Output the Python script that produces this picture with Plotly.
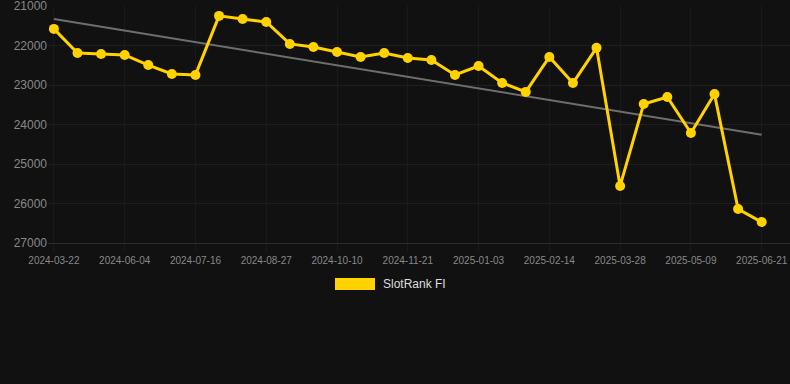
import numpy as np
import plotly.graph_objects as go

dates = [
    "2024-03-22", "2024-04-13", "2024-05-12", "2024-06-04", "2024-06-18", "2024-07-02",
    "2024-07-16", "2024-07-30", "2024-08-13", "2024-08-27", "2024-09-10", "2024-09-25",
    "2024-10-10", "2024-10-24", "2024-11-07", "2024-11-21", "2024-12-05", "2024-12-19",
    "2025-01-03", "2025-01-17", "2025-01-31", "2025-02-14", "2025-02-28", "2025-03-14",
    "2025-03-28", "2025-04-11", "2025-04-25", "2025-05-09", "2025-05-23", "2025-06-07",
    "2025-06-21",
]
ranks = [
    21580, 22190, 22215, 22240, 22495, 22720, 22745, 21250, 21330, 21405,
    21960, 22040, 22165, 22290, 22190, 22315, 22365, 22745, 22520, 22950,
    23175, 22290, 22950, 22060, 25555, 23480, 23305, 24215, 23230, 26140,
    26470,
]
series_name = "SlotRank FI"
tick_labels = dates[::3]
y_ticks = [21000, 22000, 23000, 24000, 25000, 26000, 27000]

idx = np.arange(len(ranks))
coef = np.polyfit(idx, ranks, 1)
trend = np.polyval(coef, idx)

fig = go.Figure()
fig.add_trace(go.Scatter(
    x=dates, y=trend, mode="lines",
    line=dict(color="#6e6e6e", width=2), showlegend=False, hoverinfo="skip",
))
fig.add_trace(go.Scatter(
    x=dates, y=ranks, mode="lines+markers", name=series_name,
    line=dict(color="#FFD200", width=3),
    marker=dict(color="#FFD200", size=10),
    showlegend=False,
))

fig.update_layout(
    width=790, height=384,
    margin=dict(l=48, r=0, t=6, b=141),
    paper_bgcolor="#111111", plot_bgcolor="#111111",
    font=dict(family="Liberation Sans, Arial, sans-serif", color="#888888"),
    xaxis=dict(
        type="category", range=[-0.25, 31.2],
        tickvals=tick_labels, ticktext=tick_labels,
        showgrid=True, gridcolor="#1a1a1a", gridwidth=1,
        tickfont=dict(size=10, color="#888888"),
        showline=True, linecolor="#2c2c2c", linewidth=1,
        ticks="outside", ticklen=8, tickcolor="#1a1a1a", zeroline=False,
        ticklabeloverflow="allow",
    ),
    yaxis=dict(
        range=[27000, 21000], tickvals=y_ticks,
        ticktext=[str(v) for v in y_ticks],
        showgrid=True, gridcolor="#1e1e1e", gridwidth=1,
        tickfont=dict(size=12, color="#888888"),
        zeroline=False, ticks="", ticklabeloverflow="allow",
    ),
    showlegend=False,
    shapes=[dict(
        type="rect", xref="paper", yref="paper",
        x0=(335 - 48) / 742, x1=(375 - 48) / 742,
        y0=-(278 - 243) / 237, y1=-(290 - 243) / 237,
        fillcolor="#FFD200", line=dict(width=0),
    )],
    annotations=[dict(
        text=series_name, xref="paper", yref="paper",
        x=(381 - 48) / 742, y=-(284 - 243) / 237,
        xanchor="left", yanchor="middle", showarrow=False,
        font=dict(size=12, color="#dddddd"),
    )],
)

fig.write_html(
    "out.html",
    config={"displayModeBar": False},
    post_script="document.body.style.margin='0';document.body.style.background='#111111';",
)
